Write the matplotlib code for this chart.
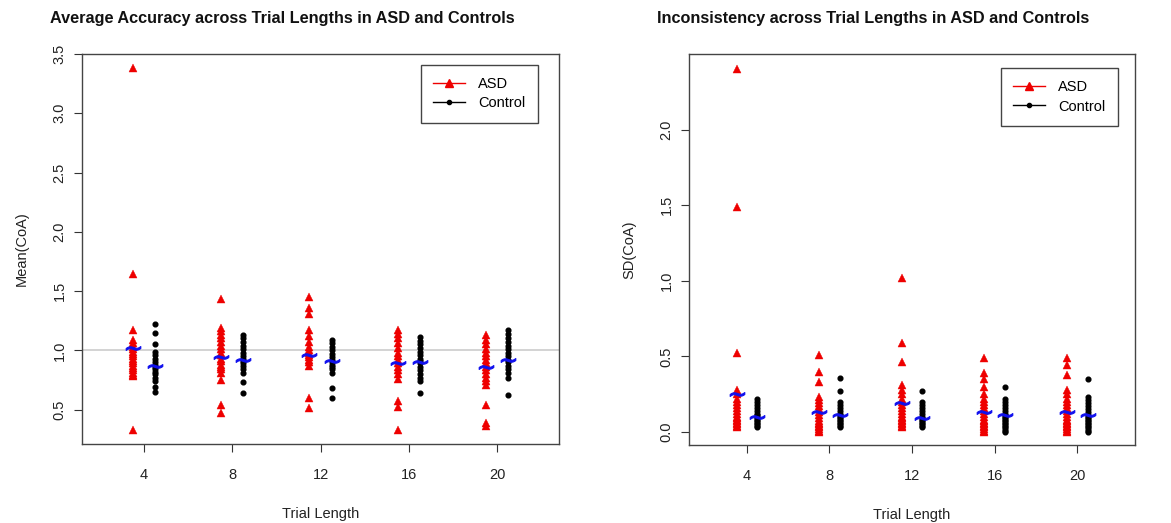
import matplotlib
matplotlib.use("Agg")
import matplotlib.pyplot as plt
from matplotlib.lines import Line2D

plt.rcParams["font.family"] = ["Liberation Sans", "DejaVu Sans"]

trial_lengths = [4, 8, 12, 16, 20]

# Mean(CoA) per participant
asd_mean_coa = [
    [3.38, 1.64, 1.17, 1.09, 1.06, 1.03, 1.01, 0.99, 0.97, 0.95, 0.93, 0.91, 0.89, 0.87, 0.85, 0.83, 0.81, 0.79, 0.78, 0.33],
    [1.43, 1.19, 1.16, 1.13, 1.10, 1.07, 1.04, 1.01, 0.98, 0.96, 0.93, 0.91, 0.88, 0.86, 0.84, 0.81, 0.75, 0.54, 0.47],
    [1.45, 1.36, 1.31, 1.17, 1.12, 1.07, 1.03, 1.00, 0.98, 0.96, 0.94, 0.92, 0.90, 0.87, 0.60, 0.51],
    [1.17, 1.14, 1.10, 1.06, 1.02, 0.98, 0.95, 0.92, 0.89, 0.86, 0.83, 0.80, 0.76, 0.57, 0.52, 0.33],
    [1.13, 1.09, 1.05, 1.01, 0.98, 0.95, 0.92, 0.89, 0.86, 0.83, 0.80, 0.77, 0.74, 0.71, 0.54, 0.39, 0.36],
]
ctrl_mean_coa = [
    [1.22, 1.15, 1.05, 0.99, 0.96, 0.93, 0.90, 0.88, 0.86, 0.84, 0.82, 0.80, 0.77, 0.74, 0.69, 0.65],
    [1.13, 1.10, 1.07, 1.04, 1.01, 0.98, 0.95, 0.93, 0.91, 0.89, 0.87, 0.84, 0.81, 0.73, 0.64],
    [1.09, 1.06, 1.03, 1.00, 0.97, 0.94, 0.92, 0.90, 0.88, 0.86, 0.84, 0.81, 0.68, 0.60],
    [1.11, 1.08, 1.05, 1.02, 0.99, 0.96, 0.93, 0.91, 0.89, 0.86, 0.83, 0.80, 0.77, 0.74, 0.64],
    [1.17, 1.14, 1.10, 1.07, 1.04, 1.01, 0.98, 0.95, 0.92, 0.90, 0.87, 0.84, 0.81, 0.77, 0.62],
]
asd_mean_coa_avg = [1.02, 0.94, 0.96, 0.89, 0.86]
ctrl_mean_coa_avg = [0.87, 0.92, 0.91, 0.90, 0.92]

# SD(CoA) per participant
asd_sd_coa = [
    [2.40, 1.49, 0.52, 0.28, 0.25, 0.22, 0.20, 0.18, 0.16, 0.14, 0.12, 0.10, 0.09, 0.08, 0.07, 0.06, 0.05, 0.04, 0.03],
    [0.51, 0.40, 0.33, 0.23, 0.21, 0.19, 0.17, 0.15, 0.13, 0.11, 0.09, 0.07, 0.06, 0.05, 0.04, 0.03, 0.02, 0.01, 0.00],
    [1.02, 0.59, 0.46, 0.31, 0.28, 0.25, 0.22, 0.20, 0.18, 0.16, 0.14, 0.12, 0.10, 0.09, 0.08, 0.07, 0.06, 0.05, 0.04, 0.03],
    [0.49, 0.39, 0.35, 0.30, 0.25, 0.22, 0.20, 0.18, 0.16, 0.14, 0.12, 0.10, 0.08, 0.07, 0.06, 0.05, 0.04, 0.03, 0.02, 0.01, 0.00],
    [0.49, 0.44, 0.38, 0.28, 0.25, 0.22, 0.20, 0.18, 0.16, 0.14, 0.12, 0.10, 0.08, 0.07, 0.06, 0.05, 0.04, 0.03, 0.02, 0.01, 0.00],
]
ctrl_sd_coa = [
    [0.22, 0.20, 0.18, 0.16, 0.14, 0.12, 0.11, 0.10, 0.09, 0.08, 0.07, 0.06, 0.05, 0.04, 0.03],
    [0.36, 0.27, 0.20, 0.18, 0.16, 0.14, 0.12, 0.11, 0.10, 0.09, 0.08, 0.07, 0.06, 0.05, 0.04, 0.03],
    [0.27, 0.20, 0.18, 0.16, 0.14, 0.12, 0.10, 0.09, 0.08, 0.07, 0.06, 0.05, 0.04, 0.03],
    [0.30, 0.22, 0.20, 0.18, 0.16, 0.14, 0.12, 0.11, 0.10, 0.09, 0.08, 0.07, 0.06, 0.05, 0.04, 0.03, 0.02, 0.01, 0.00],
    [0.35, 0.23, 0.21, 0.19, 0.17, 0.15, 0.13, 0.11, 0.10, 0.09, 0.08, 0.07, 0.06, 0.05, 0.04, 0.03, 0.02, 0.01, 0.00],
]
asd_sd_coa_avg = [0.25, 0.13, 0.19, 0.13, 0.13]
ctrl_sd_coa_avg = [0.10, 0.11, 0.09, 0.11, 0.11]

RED = "#ee0000"
BLUE = "#1010ee"


def panel(ax, asd, ctrl, asd_avg, ctrl_avg, ylim, yticks, ylabel, leg_anchor):
    for L, a, c in zip(trial_lengths, asd, ctrl):
        ax.plot([L - 0.5] * len(a), a, ls="none", marker="^", ms=5.2, color=RED, mec=RED, mew=0.3)
        ax.plot([L + 0.5] * len(c), c, ls="none", marker="o", ms=3.4, color="black")
    # group means drawn as blue tildes
    ax.plot([L - 0.5 for L in trial_lengths], asd_avg, ls="none", marker="$\\sim$",
            ms=10.5, color=BLUE, mew=0.8, zorder=5)
    ax.plot([L + 0.5 for L in trial_lengths], ctrl_avg, ls="none", marker="$\\sim$",
            ms=10.5, color=BLUE, mew=0.8, zorder=5)
    ax.set_xlim(1.2, 22.8)
    ax.set_ylim(*ylim)
    ax.set_xticks(trial_lengths)
    ax.set_yticks(yticks)
    ax.set_yticklabels([f"{t:.1f}" for t in yticks], rotation=90, va="center")
    ax.tick_params(direction="out", length=6, width=0.8, color="#333333",
                   labelsize=10.5, labelcolor="#222222")
    ax.tick_params(axis="x", pad=11)
    ax.tick_params(axis="y", pad=5)
    for s in ax.spines.values():
        s.set_color("#444444")
        s.set_linewidth(1.0)
    ax.set_xlabel("Trial Length", fontsize=10.5, color="#222222", labelpad=18)
    ax.set_ylabel(ylabel, fontsize=10.5, color="#222222", labelpad=17)
    handles = [
        Line2D([], [], color=RED, lw=1, marker="^", ms=5.5),
        Line2D([], [], color="black", lw=1, marker="o", ms=3),
    ]
    ax.legend(handles, ["ASD", "Control"], loc="upper right", bbox_to_anchor=leg_anchor,
              borderaxespad=0, fancybox=False, edgecolor="#444444", framealpha=1,
              fontsize=10.5, handlelength=2.2, borderpad=0.85, labelspacing=0.35,
              handletextpad=0.9)


fig = plt.figure(figsize=(11.71, 5.23), dpi=100)
ax1 = fig.add_axes([0.0700, 0.1511, 0.4074, 0.7457])
ax2 = fig.add_axes([0.5884, 0.1491, 0.3809, 0.7476])

ax1.axhline(1.0, color="#cccccc", lw=1.2, zorder=0)
panel(ax1, asd_mean_coa, ctrl_mean_coa, asd_mean_coa_avg, ctrl_mean_coa_avg,
      (0.21, 3.50), [0.5, 1.0, 1.5, 2.0, 2.5, 3.0, 3.5], "Mean(CoA)", (0.956, 0.972))
panel(ax2, asd_sd_coa, ctrl_sd_coa, asd_sd_coa_avg, ctrl_sd_coa_avg,
      (-0.086, 2.50), [0.0, 0.5, 1.0, 1.5, 2.0], "SD(CoA)", (0.962, 0.964))

fig.text(282 / 1171, 1 - 18 / 523, "Average Accuracy across Trial Lengths in ASD and Controls",
         ha="center", va="center", fontsize=11.7, fontweight="bold", color="#111111")
fig.text(873 / 1171, 1 - 18 / 523, "Inconsistency across Trial Lengths in ASD and Controls",
         ha="center", va="center", fontsize=11.7, fontweight="bold", color="#111111")

fig.savefig("out.png", dpi=100)
